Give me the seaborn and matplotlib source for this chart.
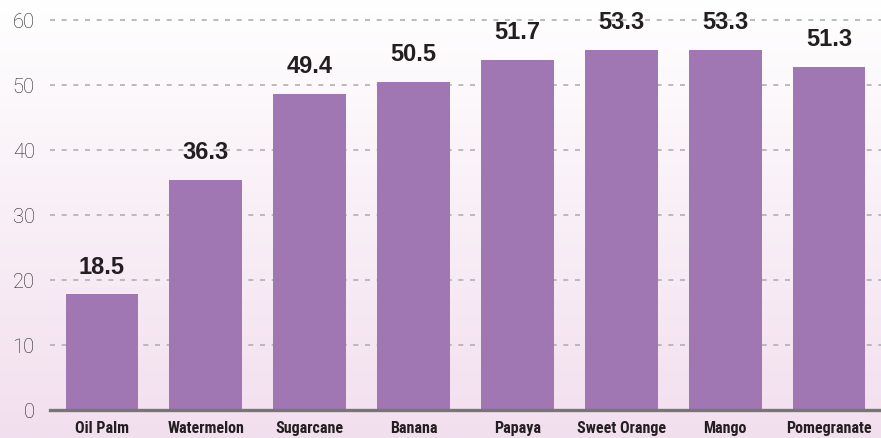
import numpy as np
import pandas as pd
import matplotlib
matplotlib.use("Agg")
import matplotlib.pyplot as plt
import seaborn as sns

# data
categories = ["Oil Palm", "Watermelon", "Sugarcane", "Banana", "Papaya",
              "Sweet Orange", "Mango", "Pomegranate"]
bar_heights = [17.8, 35.4, 48.6, 50.5, 53.8, 55.4, 55.4, 52.8]
value_labels = ["18.5", "36.3", "49.4", "50.5", "51.7", "53.3", "53.3", "51.3"]
y_ticks = [0, 10, 20, 30, 40, 50, 60]

df = pd.DataFrame({"crop": categories, "val": bar_heights})

sns.set_style("white")
fig = plt.figure(figsize=(8.81, 4.39), dpi=100)

# gradient background over the whole figure
bg = fig.add_axes([0, 0, 1, 1], zorder=0)
grad = np.linspace(0, 1, 256).reshape(-1, 1)
cmap = matplotlib.colors.LinearSegmentedColormap.from_list("bg", ["#ffffff", "#f2dfee"])
bg.imshow(grad, aspect="auto", cmap=cmap, extent=[0, 1, 0, 1], origin="upper")
bg.axis("off")

ax = fig.add_axes([50 / 881, 28 / 439, 831 / 881, 411 / 439], zorder=1)
ax.patch.set_alpha(0)
sns.barplot(data=df, x="crop", y="val", color="#a077b2", saturation=1,
            width=0.70, linewidth=0, ax=ax)

ax.set_xlim(-0.5, 7.5)
ax.set_ylim(0, 63.2)
ax.set_yticks(y_ticks)
ax.set_ylabel("")
ax.set_xlabel("")

for y in y_ticks[1:]:
    ax.axhline(y, color="#b0b0b0", lw=1.2, ls=(0, (3, 4)), zorder=0)

for i, (h, lab) in enumerate(zip(bar_heights, value_labels)):
    ax.annotate(lab, (i, h), xytext=(0, 12), textcoords="offset points",
                ha="center", va="bottom", fontsize=17, fontweight="bold",
                color="#231f20", family=["Liberation Sans", "DejaVu Sans"])

for s in ["top", "right", "left"]:
    ax.spines[s].set_visible(False)
ax.spines["bottom"].set_color("#767676")
ax.spines["bottom"].set_linewidth(2.4)

ax.tick_params(axis="y", length=0, pad=11, labelsize=14.5, labelcolor="#222222")
ax.tick_params(axis="x", length=0, pad=7)
for t in ax.get_yticklabels():
    t.set_family(["Roboto", "DejaVu Sans"])
    t.set_fontweight("light")
for t in ax.get_xticklabels():
    t.set_family(["Roboto Condensed", "Archivo Narrow", "PT Sans Narrow", "DejaVu Sans"])
    t.set_fontweight("bold")
    t.set_fontsize(11.5)
    t.set_color("#231f20")

fig.savefig("out.png", dpi=100)
